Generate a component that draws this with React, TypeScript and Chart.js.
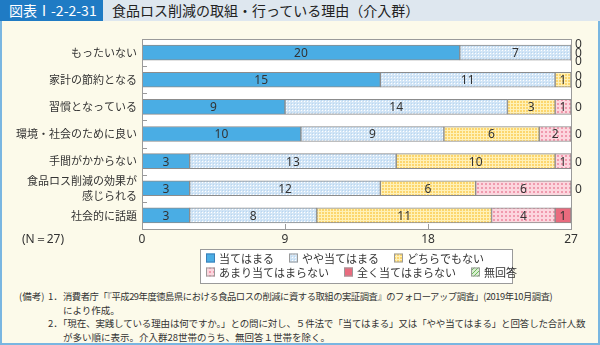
import React, { useEffect, useRef } from 'react';
import { Chart, registerables } from 'chart.js';

Chart.register(...registerables);

const categories: string[][] = [
  ['もったいない'],
  ['家計の節約となる'],
  ['習慣となっている'],
  ['環境・社会のために良い'],
  ['手間がかからない'],
  ['食品ロス削減の効果が', '感じられる'],
  ['社会的に話題'],
];
const seriesNames = ['当てはまる', 'やや当てはまる', 'どちらでもない', 'あまり当てはまらない', '全く当てはまらない', '無回答'];
const atehamaru = [20, 15, 9, 10, 3, 3, 3];
const yayaAtehamaru = [7, 11, 14, 9, 13, 12, 8];
const dochiraDemonai = [0, 1, 3, 6, 10, 6, 11];
const amariAtehamaranai = [0, 0, 1, 2, 1, 6, 4];
const mattakuAtehamaranai = [0, 0, 0, 0, 0, 0, 1];
const mukaitou = [0, 0, 0, 0, 0, 0, 0];
const xTicks = [0, 9, 18, 27];
const zeroLabelSeries = 5;

if (typeof document !== 'undefined') document.body.style.margin = '0';

function makePattern(size: number, draw: (c: CanvasRenderingContext2D) => void) {
  const cv = document.createElement('canvas');
  cv.width = size;
  cv.height = size;
  const c = cv.getContext('2d')!;
  draw(c);
  return c.createPattern(cv, 'repeat')!;
}

const JP = '"Noto Sans CJK JP", "Noto Sans", sans-serif';

export default function App() {
  const ref = useRef<HTMLCanvasElement>(null);

  useEffect(() => {
    document.body.style.margin = '0';
    const blue = '#4aade4';
    const lightBlue = makePattern(3, (c) => {
      c.fillStyle = '#d2e5f6';
      c.fillRect(0, 0, 3, 3);
      c.fillStyle = '#ffffff';
      c.fillRect(1, 1, 1, 1);
      c.fillStyle = '#b9d6f0';
      c.fillRect(0, 0, 1, 1);
    });
    const yellow = makePattern(3, (c) => {
      c.fillStyle = '#fcd66e';
      c.fillRect(0, 0, 3, 3);
      c.fillStyle = '#fff1b8';
      c.fillRect(0, 0, 3, 1);
      c.fillRect(0, 0, 1, 3);
    });
    const pink = makePattern(4, (c) => {
      c.fillStyle = '#fcd6de';
      c.fillRect(0, 0, 4, 4);
      c.fillStyle = '#f09aae';
      c.fillRect(1, 1, 2, 2);
    });
    const red = '#e96b7e';
    const green = makePattern(4, (c) => {
      c.fillStyle = '#d8efd0';
      c.fillRect(0, 0, 4, 4);
      c.fillStyle = '#6cb85a';
      for (let i = 0; i < 4; i++) c.fillRect(i, 3 - i, 1, 1);
    });

    const seriesData = [atehamaru, yayaAtehamaru, dochiraDemonai, amariAtehamaranai, mattakuAtehamaranai, mukaitou];
    const fills: (string | CanvasPattern)[] = [blue, lightBlue, yellow, pink, red, green];

    const labelPlugin = {
      id: 'segLabels',
      beforeDatasetsDraw(chart: any) {
        const { ctx, chartArea: a } = chart;
        ctx.save();
        ctx.fillStyle = '#ffffff';
        ctx.fillRect(a.left, a.top, a.right - a.left, a.bottom - a.top);
        ctx.restore();
      },
      afterDatasetsDraw(chart: any) {
        const { ctx, chartArea: a } = chart;
        ctx.save();
        ctx.strokeStyle = '#9a9a9a';
        ctx.lineWidth = 1;
        ctx.strokeRect(Math.round(a.left) + 0.5, Math.round(a.top) + 0.5, Math.round(a.right - a.left), Math.round(a.bottom - a.top));
        const n = categories.length;
        const h = (a.bottom - a.top) / n;
        ctx.beginPath();
        for (let k = 1; k < n; k++) {
          const y = Math.round(a.top + k * h) + 0.5;
          ctx.moveTo(a.left, y);
          ctx.lineTo(a.left + 5, y);
        }
        const xs = chart.scales.x;
        xTicks.slice(1, -1).forEach((t) => {
          const x = Math.round(xs.getPixelForValue(t)) + 0.5;
          ctx.moveTo(x, a.bottom);
          ctx.lineTo(x, a.bottom - 5);
        });
        ctx.stroke();

        ctx.font = '12px "Noto Sans", sans-serif';
        ctx.fillStyle = '#333333';
        ctx.textAlign = 'center';
        ctx.textBaseline = 'middle';
        chart.data.datasets.forEach((ds: any, di: number) => {
          const meta = chart.getDatasetMeta(di);
          meta.data.forEach((el: any, i: number) => {
            const v = ds.data[i];
            if (v > 0) {
              const p = el.getProps(['x', 'y', 'base'], true);
              ctx.fillText(String(v), (p.x + p.base) / 2, p.y + 1);
            }
          });
        });
        ctx.textAlign = 'left';
        const ys = chart.scales.y;
        categories.forEach((_, i) => {
          const zeros: number[] = [];
          for (let s = 0; s < zeroLabelSeries; s++) if (seriesData[s][i] === 0) zeros.push(s);
          const cy = ys.getPixelForValue(i);
          zeros.forEach((_, j) => {
            const off = (j - (zeros.length - 1) / 2) * 8.5;
            ctx.fillText('0', a.right + 4, cy + off + 1);
          });
        });
        ctx.restore();
      },
      afterDraw(chart: any) {
        const ctx = chart.ctx;
        ctx.save();
        const bx = 200, by = 227, bw = 312, bh = 34;
        ctx.fillStyle = '#ffffff';
        ctx.fillRect(bx, by, bw, bh);
        ctx.strokeStyle = '#9a9a9a';
        ctx.lineWidth = 1;
        ctx.strokeRect(bx + 0.5, by + 0.5, bw, bh);
        ctx.font = '11px ' + JP;
        ctx.textBaseline = 'middle';
        ctx.textAlign = 'left';
        const rows = [[0, 1, 2], [3, 4, 5]];
        const rowY = [235.5, 249.5];
        rows.forEach((row, r) => {
          let x = 206;
          row.forEach((si) => {
            const y = rowY[r];
            ctx.fillStyle = fills[si];
            ctx.fillRect(x, y - 4, 9, 9);
            ctx.strokeStyle = si === 0 ? '#3a7fb8' : '#9a9a9a';
            ctx.strokeRect(x + 0.5, y - 3.5, 8, 8);
            ctx.fillStyle = '#333333';
            ctx.fillText(seriesNames[si], x + 13, y + 1);
            x += 13 + ctx.measureText(seriesNames[si]).width + 15;
          });
        });
        ctx.restore();
      },
    };

    const chart = new Chart(ref.current!, {
      type: 'bar',
      data: {
        labels: categories,
        datasets: seriesData.map((d, i) => ({
          label: seriesNames[i],
          data: d,
          backgroundColor: fills[i] as any,
          borderColor: '#8c8c8c',
          borderWidth: (c: any) => (c.raw === 0 ? 0 : 1),
          borderSkipped: false,
          barThickness: 15,
          stack: 's',
        })),
      },
      options: {
        indexAxis: 'y',
        animation: false,
        responsive: false,
        events: [],
        layout: { padding: { left: 0, right: 29, top: 17, bottom: 38 } },
        plugins: { legend: { display: false }, tooltip: { enabled: false } },
        scales: {
          x: {
            stacked: true,
            min: 0,
            max: 27,
            grid: { display: false, drawTicks: false },
            border: { display: false },
            afterBuildTicks: (s: any) => {
              s.ticks = xTicks.map((v) => ({ value: v }));
            },
            afterFit: (s: any) => {
              s.height = 20;
            },
            ticks: { padding: 3, autoSkip: false, color: '#333333', font: { size: 12, family: '"Noto Sans", sans-serif' }, maxRotation: 0 },
          },
          y: {
            stacked: true,
            grid: { display: false, drawTicks: false },
            border: { display: false },
            afterFit: (s: any) => {
              s.width = 142;
            },
            ticks: { padding: 5, autoSkip: false, color: '#333333', font: { size: 11, family: JP, lineHeight: 1.3 } },
          },
        },
      },
      plugins: [labelPlugin],
    } as any);
    return () => chart.destroy();
  }, []);

  return (
    <div style={{ position: 'relative', width: 600, height: 345, background: '#fcfaea', fontFamily: JP, overflow: 'hidden' }}>
      <div style={{ position: 'absolute', left: 0, top: 0, width: 600, height: 21, background: '#dee7ef' }} />
      <div style={{ position: 'absolute', left: 0, top: 0, width: 103, height: 21, background: '#1f7bc4', color: '#ffffff', fontSize: 14, lineHeight: '21px', paddingLeft: 9, boxSizing: 'border-box', whiteSpace: 'nowrap' }}>
        図表Ⅰ-2-2-31
      </div>
      <div style={{ position: 'absolute', left: 112, top: 0, height: 21, color: '#222222', fontSize: 14, lineHeight: '21px', whiteSpace: 'nowrap' }}>
        食品ロス削減の取組・行っている理由（介入群）
      </div>
      <div style={{ position: 'absolute', left: 0, top: 21, width: 600, height: 324, border: '2px solid #79b6e1', borderTop: 'none', boxSizing: 'border-box' }} />
      <canvas ref={ref} width={600} height={265} style={{ position: 'absolute', left: 0, top: 22, display: 'block' }} />
      <div style={{ position: 'absolute', left: 22, top: 230, fontSize: 12, color: '#333333', fontFamily: '"Noto Sans", sans-serif', whiteSpace: 'nowrap' }}>(N＝27)</div>
      <div style={{ position: 'absolute', left: 0, top: 290, width: 600, fontSize: 9.5, lineHeight: '13.5px', color: '#333333', whiteSpace: 'nowrap' }}>
        <div style={{ position: 'absolute', left: 19, top: 0 }}>(備考)</div>
        <div style={{ position: 'absolute', left: 48, top: 0 }}>1．</div>
        <div style={{ position: 'absolute', left: 63, top: 0, fontSize: 9.3, letterSpacing: '-0.45px' }}>消費者庁「『平成29年度徳島県における食品ロスの削減に資する取組の実証調査』のフォローアップ調査」(2019年10月調査)</div>
        <div style={{ position: 'absolute', left: 63, top: 13.5 }}>により作成。</div>
        <div style={{ position: 'absolute', left: 48, top: 27 }}>2．</div>
        <div style={{ position: 'absolute', left: 58, top: 27, letterSpacing: '-0.15px' }}>「現在、実践している理由は何ですか。」との問に対し、５件法で「当てはまる」又は「やや当てはまる」と回答した合計人数</div>
        <div style={{ position: 'absolute', left: 63, top: 40.5 }}>が多い順に表示。介入群28世帯のうち、無回答１世帯を除く。</div>
      </div>
    </div>
  );
}
